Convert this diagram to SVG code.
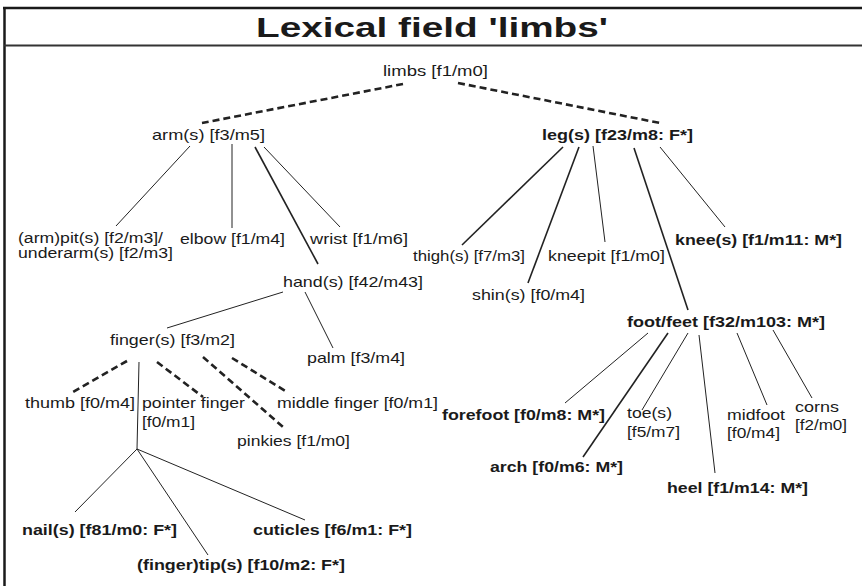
<svg xmlns="http://www.w3.org/2000/svg" width="862" height="586" viewBox="0 0 862 586">
<style>
text{font-family:"Liberation Sans",Arial,sans-serif;font-size:15px;fill:#1a1a1a}
.b{font-weight:bold}
.sm{font-size:14px}
.title{font-size:28px;font-weight:bold}
.s{stroke:#222;stroke-width:1;fill:none}
.t{stroke:#222;stroke-width:1.6;fill:none}
.d{stroke:#222;stroke-width:2.6;stroke-dasharray:7 4;fill:none}
.frame{stroke:#1a1a1a;stroke-width:2.5;fill:none}
</style>
<rect width="862" height="586" fill="#fff"/>
<g id="frame">
<line class="frame" x1="3" y1="8" x2="862" y2="8"/>
<line class="frame" x1="4.5" y1="7" x2="4.5" y2="586"/>
<line x1="4" y1="45.5" x2="862" y2="45.5" stroke="#333" stroke-width="2"/>
</g>
<g id="title"><text class="title" x="256" y="37" textLength="352" lengthAdjust="spacingAndGlyphs">Lexical field 'limbs'</text></g>
<g id="connectors">
<line class="d" x1="403" y1="84" x2="202" y2="123"/>
<line class="d" x1="458" y1="83" x2="660" y2="123"/>
<line class="s" x1="190" y1="146" x2="116" y2="226"/>
<line class="s" x1="232" y1="144" x2="232" y2="228"/>
<line class="t" x1="255" y1="147" x2="318" y2="264"/>
<line class="s" x1="264" y1="147" x2="340" y2="227"/>
<line class="s" x1="283" y1="292" x2="167" y2="328"/>
<line class="s" x1="305" y1="292" x2="333" y2="348"/>
<line class="d" x1="127" y1="361" x2="73" y2="392"/>
<line class="d" x1="157" y1="362" x2="203" y2="397"/>
<line class="d" x1="203" y1="357" x2="283" y2="427"/>
<line class="d" x1="232" y1="358" x2="287" y2="392"/>
<line class="s" x1="139" y1="362" x2="137" y2="449"/>
<line class="s" x1="137" y1="449" x2="75" y2="512"/>
<line class="s" x1="137" y1="449" x2="208" y2="555"/>
<line class="s" x1="137" y1="449" x2="305" y2="520"/>
<line class="t" x1="563" y1="147" x2="462" y2="245"/>
<line class="t" x1="579" y1="147" x2="528" y2="283"/>
<line class="s" x1="593" y1="146" x2="605" y2="242"/>
<line class="t" x1="634" y1="148" x2="688" y2="310"/>
<line class="s" x1="660" y1="147" x2="725" y2="227"/>
<line class="s" x1="648" y1="333" x2="565" y2="403"/>
<line class="t" x1="668" y1="333" x2="583" y2="457"/>
<line class="s" x1="688" y1="333" x2="642" y2="410"/>
<line class="s" x1="699" y1="335" x2="715" y2="473"/>
<line class="s" x1="737" y1="333" x2="767" y2="405"/>
<line class="s" x1="773" y1="330" x2="812" y2="398"/>
</g>
<g id="limbs"><text x="383" y="76" textLength="105" lengthAdjust="spacingAndGlyphs">limbs [f1/m0]</text></g>
<g id="arms"><text x="152" y="140" textLength="113" lengthAdjust="spacingAndGlyphs">arm(s) [f3/m5]</text></g>
<g id="legs"><text class="b" x="542" y="140" textLength="151" lengthAdjust="spacingAndGlyphs">leg(s) [f23/m8: F*]</text></g>
<g id="armpit"><text class="sm" x="18" y="243" textLength="145" lengthAdjust="spacingAndGlyphs">(arm)pit(s) [f2/m3]/</text><text class="sm" x="18" y="258" textLength="155" lengthAdjust="spacingAndGlyphs">underarm(s) [f2/m3]</text></g>
<g id="elbow"><text x="180" y="244" textLength="105" lengthAdjust="spacingAndGlyphs">elbow [f1/m4]</text></g>
<g id="wrist"><text x="310" y="244" textLength="98" lengthAdjust="spacingAndGlyphs">wrist [f1/m6]</text></g>
<g id="hand"><text x="283" y="287" textLength="140" lengthAdjust="spacingAndGlyphs">hand(s) [f42/m43]</text></g>
<g id="finger"><text x="110" y="345" textLength="125" lengthAdjust="spacingAndGlyphs">finger(s) [f3/m2]</text></g>
<g id="palm"><text x="307" y="363" textLength="98" lengthAdjust="spacingAndGlyphs">palm [f3/m4]</text></g>
<g id="thumb"><text x="25" y="408" textLength="110" lengthAdjust="spacingAndGlyphs">thumb [f0/m4]</text></g>
<g id="pointer"><text x="142" y="408" textLength="103" lengthAdjust="spacingAndGlyphs">pointer finger</text><text x="142" y="427" textLength="53" lengthAdjust="spacingAndGlyphs">[f0/m1]</text></g>
<g id="middle"><text x="277" y="408" textLength="161" lengthAdjust="spacingAndGlyphs">middle finger [f0/m1]</text></g>
<g id="pinkies"><text x="237" y="446" textLength="113" lengthAdjust="spacingAndGlyphs">pinkies [f1/m0]</text></g>
<g id="nails"><text class="b" x="22" y="535" textLength="155" lengthAdjust="spacingAndGlyphs">nail(s) [f81/m0: F*]</text></g>
<g id="cuticles"><text class="b" x="253" y="535" textLength="159" lengthAdjust="spacingAndGlyphs">cuticles [f6/m1: F*]</text></g>
<g id="tips"><text class="b" x="137" y="570" textLength="208" lengthAdjust="spacingAndGlyphs">(finger)tip(s) [f10/m2: F*]</text></g>
<g id="thigh"><text x="413" y="261" textLength="112" lengthAdjust="spacingAndGlyphs">thigh(s) [f7/m3]</text></g>
<g id="kneepit"><text x="548" y="261" textLength="117" lengthAdjust="spacingAndGlyphs">kneepit [f1/m0]</text></g>
<g id="knee"><text class="b" x="675" y="245" textLength="167" lengthAdjust="spacingAndGlyphs">knee(s) [f1/m11: M*]</text></g>
<g id="shin"><text x="472" y="300" textLength="113" lengthAdjust="spacingAndGlyphs">shin(s) [f0/m4]</text></g>
<g id="foot"><text class="b" x="627" y="327" textLength="198" lengthAdjust="spacingAndGlyphs">foot/feet [f32/m103: M*]</text></g>
<g id="forefoot"><text class="b" x="442" y="420" textLength="163" lengthAdjust="spacingAndGlyphs">forefoot [f0/m8: M*]</text></g>
<g id="toe"><text x="627" y="418" textLength="45" lengthAdjust="spacingAndGlyphs">toe(s)</text><text x="627" y="437" textLength="53" lengthAdjust="spacingAndGlyphs">[f5/m7]</text></g>
<g id="midfoot"><text x="727" y="420" textLength="58" lengthAdjust="spacingAndGlyphs">midfoot</text><text x="727" y="438" textLength="53" lengthAdjust="spacingAndGlyphs">[f0/m4]</text></g>
<g id="corns"><text x="795" y="412" textLength="44" lengthAdjust="spacingAndGlyphs">corns</text><text x="795" y="430" textLength="52" lengthAdjust="spacingAndGlyphs">[f2/m0]</text></g>
<g id="arch"><text class="b" x="490" y="472" textLength="133" lengthAdjust="spacingAndGlyphs">arch [f0/m6: M*]</text></g>
<g id="heel"><text class="b" x="667" y="493" textLength="141" lengthAdjust="spacingAndGlyphs">heel [f1/m14: M*]</text></g>
</svg>
